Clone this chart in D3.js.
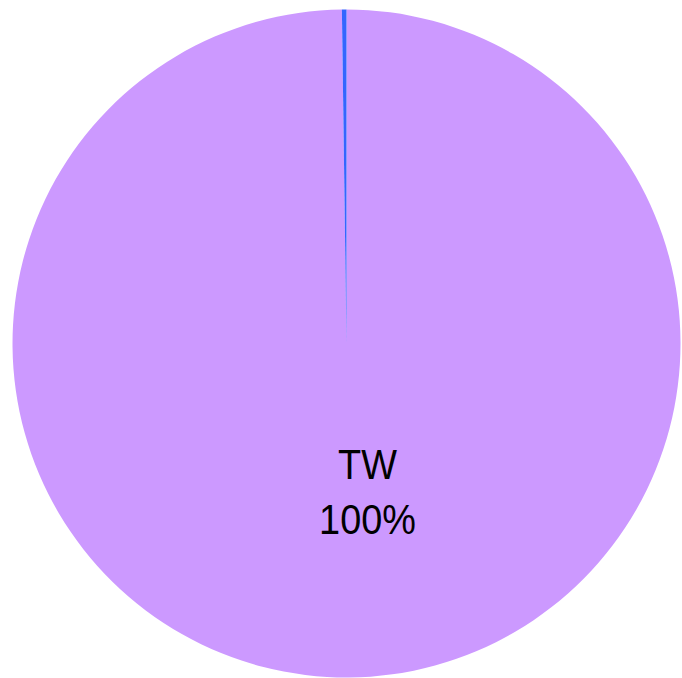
<!DOCTYPE html>
<html>
<head>
<meta charset="utf-8">
<script src="https://cdn.jsdelivr.net/npm/d3@7"></script>
<style>
  html, body { margin: 0; padding: 0; background: #ffffff; }
  svg { display: block; }
</style>
</head>
<body>
<script>
// Share by region
const categories = ["TW", "Other"];
const values = [99.78, 0.22];
const colors = ["#cc99ff", "#3366ff"];

const width = 682, height = 678;
const cx = 346.5, cy = 343.5, radius = 334;

const svg = d3.select("body").append("svg")
  .attr("width", width)
  .attr("height", height);

const data = categories.map((c, i) => ({ name: c, value: values[i], color: colors[i] }));

const pie = d3.pie().sort(null).value(d => d.value);
const arc = d3.arc().innerRadius(0).outerRadius(radius);

const g = svg.append("g").attr("transform", `translate(${cx},${cy})`);

const arcs = pie(data);

g.selectAll("path.slice")
  .data(arcs)
  .join("path")
  .attr("class", "slice")
  .attr("d", arc)
  .attr("fill", d => d.data.color);

// Label for the dominant slice
const fmt = v => Math.round(v) + "%";
const main = arcs[0];
const total = d3.sum(values);
const label = g.append("text")
  .attr("transform", "translate(21,0) scale(0.88,1)")
  .attr("text-anchor", "middle")
  .attr("font-family", "'Liberation Sans', Arial, sans-serif")
  .attr("font-size", 43)
  .attr("fill", "#000000");

label.append("tspan")
  .attr("x", 0)
  .attr("y", 136)
  .text(main.data.name);
label.append("tspan")
  .attr("x", 0)
  .attr("y", 191)
  .text(fmt(main.data.value / total * 100));
</script>
</body>
</html>
